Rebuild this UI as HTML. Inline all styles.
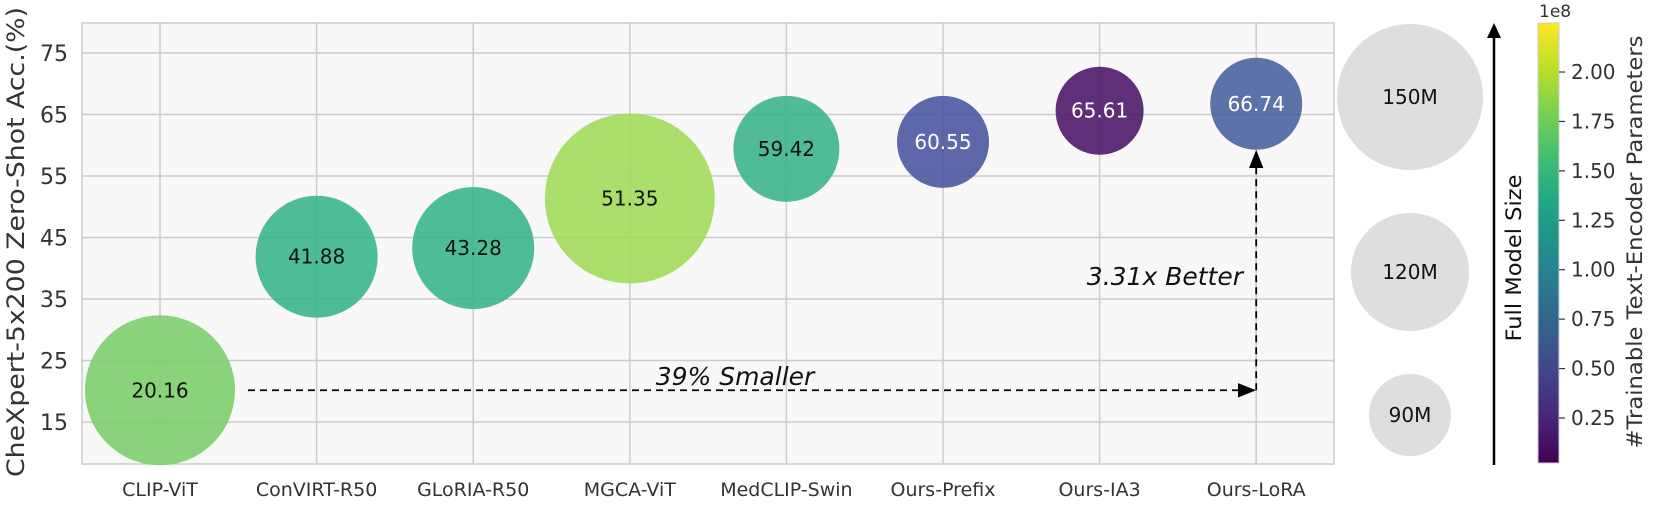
<!DOCTYPE html>
<html><head><meta charset="utf-8"><style>
body{margin:0;background:#fff;}
svg{display:block;font-family:"DejaVu Sans","Liberation Sans",sans-serif;}
</style></head><body>
<svg id="chart" width="1661" height="505" viewBox="0 0 1661 505">
<defs>
<linearGradient id="viridis" x1="0" y1="1" x2="0" y2="0">
<stop offset="0" stop-color="#440154"/><stop offset="0.1" stop-color="#482475"/><stop offset="0.2" stop-color="#414487"/><stop offset="0.3" stop-color="#355f8d"/><stop offset="0.4" stop-color="#2a788e"/><stop offset="0.5" stop-color="#21918c"/><stop offset="0.6" stop-color="#22a884"/><stop offset="0.7" stop-color="#44bf70"/><stop offset="0.8" stop-color="#7ad151"/><stop offset="0.9" stop-color="#bddf26"/><stop offset="1" stop-color="#fde725"/>
</linearGradient>
<marker id="ah" markerWidth="10" markerHeight="10" refX="9" refY="5" orient="auto"><path d="M0,1 L10,5 L0,9 z" fill="#000"/></marker>
</defs>
<rect x="82" y="23" width="1252" height="441" fill="#f8f8f8" stroke="#cccccc" stroke-width="1.5"/>
<g id="grid"></g>
<g id="bubbles"></g>
<g id="ann"></g>
<text transform="translate(24,242) rotate(-90)" text-anchor="middle" font-size="24" fill="#333" textLength="470" lengthAdjust="spacingAndGlyphs">CheXpert-5x200 Zero-Shot Acc.(%)</text>
<g>
<circle cx="1410" cy="97" r="73" fill="#dedede"/>
<text x="1410" y="104" text-anchor="middle" font-size="20" fill="#111">150M</text>
<circle cx="1410" cy="272" r="59" fill="#dedede"/>
<text x="1410" y="279" text-anchor="middle" font-size="20" fill="#111">120M</text>
<circle cx="1410" cy="415" r="41" fill="#dedede"/>
<text x="1410" y="422" text-anchor="middle" font-size="20" fill="#111">90M</text>
</g>
<line x1="1494" y1="465" x2="1494" y2="34" stroke="#000" stroke-width="2.5"/>
<path d="M1487,38 L1494,23 L1501,38 z" fill="#000"/>
<text transform="translate(1521,258) rotate(-90)" text-anchor="middle" font-size="21" fill="#111" textLength="167" lengthAdjust="spacingAndGlyphs">Full Model Size</text>
<rect x="1538" y="23" width="21" height="440" fill="url(#viridis)" stroke="#ccc"/>
<text x="1539" y="17" font-size="17" fill="#333">1e8</text>
<g id="cbticks"></g>
<text transform="translate(1642,242) rotate(-90)" text-anchor="middle" font-size="21" fill="#333" textLength="413" lengthAdjust="spacingAndGlyphs">#Trainable Text-Encoder Parameters</text>
</svg>
<script>
const categories=["CLIP-ViT","ConVIRT-R50","GLoRIA-R50","MGCA-ViT","MedCLIP-Swin","Ours-Prefix","Ours-IA3","Ours-LoRA"];
const accuracy=[20.16,41.88,43.28,51.35,59.42,60.55,65.61,66.74];
const radii=[75,61,61,85,53,46,44,46];
const colors=["#7ccf6b","#3bb68a","#3bb68a","#a3da5c","#3cb58a","#4a58a0","#4e1a6a","#4a63a0"];
const yTicks=[15,25,35,45,55,65,75];
const cbTicks=[0.25,0.5,0.75,1.0,1.25,1.5,1.75,2.0];
const NS="http://www.w3.org/2000/svg";
const xs=i=>160+156.6*i;
const ys=v=>53+(75-v)*6.15;
const cby=v=>418-(v-0.25)*197.7;
function mk(tag,attrs,parent,text){const e=document.createElementNS(NS,tag);for(const k in attrs)e.setAttribute(k,attrs[k]);if(text!==undefined)e.textContent=text;parent.appendChild(e);return e;}
const grid=document.getElementById('grid');
yTicks.forEach(t=>{
 const l=mk('line',{x1:82,x2:1334,y1:ys(t),y2:ys(t),stroke:'#cccccc','stroke-width':1.5},grid);
 
 
 const tx=mk('text',{x:68,y:ys(t)+8,'text-anchor':'end','font-size':22,fill:'#333'},grid,String(t));
 
 
});
categories.forEach((c,i)=>{
 const l=mk('line',{x1:xs(i),x2:xs(i),y1:23,y2:464,stroke:'#cccccc','stroke-width':1.5},grid);
 
 
 const tx=mk('text',{x:xs(i),y:496,'text-anchor':'middle','font-size':19,fill:'#333'},grid,c);
 
 
});
const bg=document.getElementById('bubbles');
categories.forEach((c,i)=>{
 const ci=mk('circle',{cx:xs(i),cy:ys(accuracy[i]),r:radii[i],fill:colors[i],'fill-opacity':0.9},bg);
 
 
 const dark=i>=5;
 const tx=mk('text',{x:xs(i),y:ys(accuracy[i])+7,'text-anchor':'middle','font-size':20,fill:dark?'#fff':'#111'},bg,accuracy[i].toFixed(2));
 
 
});
const an=document.getElementById('ann');
const y0=ys(accuracy[0]), xL=xs(7);
const h=mk('line',{x1:248,y1:y0,x2:xL-2,y2:y0,stroke:'#000','stroke-width':1.8,'stroke-dasharray':'7,5','marker-end':'url(#ah)'},an);


const v=mk('line',{x1:xL,y1:y0,x2:xL,y2:ys(accuracy[7])+radii[7]+2,stroke:'#000','stroke-width':1.8,'stroke-dasharray':'7,5','marker-end':'url(#ah)'},an);


const t1=mk('text',{x:735,y:385,'text-anchor':'middle','font-size':25,'font-style':'italic',fill:'#111'},an,'39% Smaller');


const t2=mk('text',{x:1243,y:285,'text-anchor':'end','font-size':25,'font-style':'italic',fill:'#111'},an,'3.31x Better');


const cb=document.getElementById('cbticks');
cbTicks.forEach(t=>{
 mk('line',{x1:1559,x2:1565,y1:cby(t),y2:cby(t),stroke:'#333','stroke-width':1.2},cb);
 const tx=mk('text',{x:1571,y:cby(t)+7,'font-size':20,fill:'#333'},cb,t.toFixed(2));
 
 
});
</script>
</body></html>
